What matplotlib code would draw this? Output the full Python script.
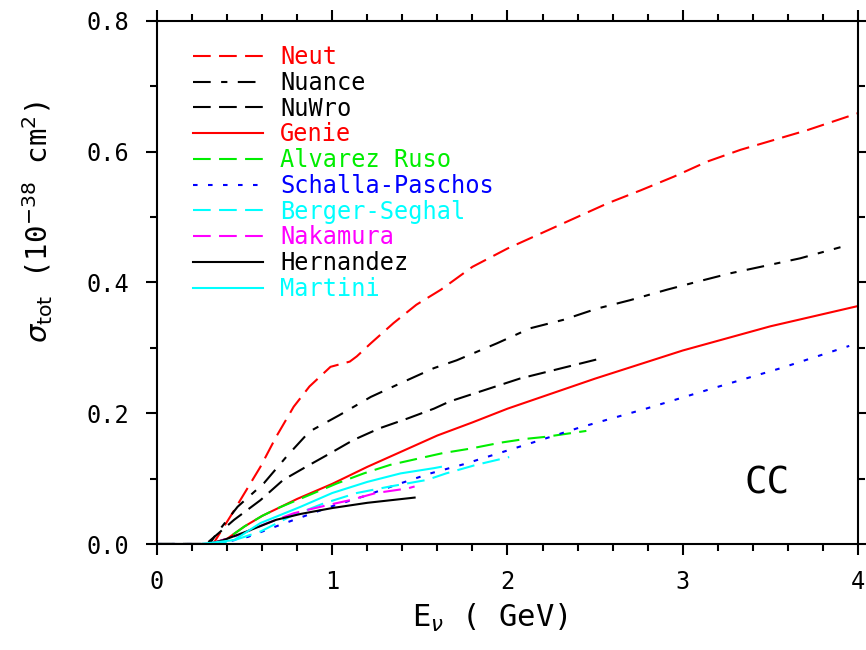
import matplotlib
matplotlib.use("Agg")
import matplotlib.pyplot as plt
from matplotlib.ticker import MultipleLocator, FormatStrFormatter

plt.rcParams['font.family'] = ['DejaVu Sans Mono', 'DejaVu Sans']
plt.rcParams['mathtext.fontset'] = 'dejavusans'

# ---- data (E in GeV, sigma in 1e-38 cm^2) ----
neut_E = [0.0, 0.32, 0.43, 0.59, 0.68, 0.78, 0.87, 0.99, 1.10, 1.14, 1.22, 1.35, 1.48, 1.62, 1.80, 2.0, 2.19, 2.38, 2.57, 2.76, 2.95, 3.14, 3.33, 3.52, 3.71, 4.0]
neut_s = [0.0, 0.0, 0.047, 0.118, 0.164, 0.21, 0.241, 0.271, 0.279, 0.287, 0.307, 0.338, 0.366, 0.389, 0.424, 0.452, 0.475, 0.498, 0.521, 0.541, 0.562, 0.585, 0.603, 0.618, 0.633, 0.659]

nuance_E = [0.0, 0.30, 0.34, 0.46, 0.61, 0.74, 0.87, 1.04, 1.22, 1.39, 1.58, 1.71, 1.94, 2.13, 2.32, 2.51, 2.70, 2.91, 3.08, 3.27, 3.48, 3.67, 3.90]
nuance_s = [0.0, 0.0, 0.016, 0.057, 0.093, 0.134, 0.172, 0.197, 0.225, 0.246, 0.269, 0.281, 0.307, 0.330, 0.343, 0.360, 0.373, 0.389, 0.401, 0.414, 0.426, 0.437, 0.454]

nuwro_E = [0.0, 0.28, 0.44, 0.59, 0.72, 0.85, 0.99, 1.12, 1.27, 1.43, 1.58, 1.67, 2.07, 2.34, 2.55]
nuwro_s = [0.0, 0.0, 0.037, 0.067, 0.098, 0.118, 0.139, 0.159, 0.177, 0.192, 0.207, 0.218, 0.253, 0.271, 0.285]

genie_E = [0.0, 0.30, 0.40, 0.50, 0.60, 0.70, 0.80, 1.0, 1.2, 1.4, 1.6, 1.8, 2.0, 2.5, 3.0, 3.5, 4.0]
genie_s = [0.0, 0.0, 0.008, 0.027, 0.043, 0.056, 0.069, 0.092, 0.118, 0.142, 0.166, 0.186, 0.207, 0.253, 0.296, 0.333, 0.364]

alvarez_E = [0.0, 0.30, 0.40, 0.50, 0.60, 0.70, 0.87, 1.03, 1.18, 1.33, 1.48, 1.63, 1.79, 1.96, 2.11, 2.22, 2.45]
alvarez_s = [0.0, 0.0, 0.008, 0.027, 0.043, 0.056, 0.075, 0.093, 0.108, 0.121, 0.130, 0.139, 0.146, 0.155, 0.161, 0.164, 0.173]

schalla_E = [0.0, 0.35, 0.52, 0.70, 0.99, 1.18, 1.37, 1.56, 1.75, 1.94, 2.13, 2.41, 2.79, 3.17, 3.56, 3.95]
schalla_s = [0.0, 0.0, 0.011, 0.029, 0.057, 0.073, 0.091, 0.108, 0.122, 0.138, 0.154, 0.178, 0.207, 0.238, 0.269, 0.303]

berger_E = [0.0, 0.30, 0.42, 0.59, 0.76, 0.95, 1.14, 1.33, 1.54, 1.65, 1.82, 2.01]
berger_s = [0.0, 0.0, 0.004, 0.019, 0.042, 0.062, 0.078, 0.088, 0.098, 0.108, 0.121, 0.133]

nakamura_E = [0.0, 0.30, 0.47, 0.62, 0.78, 0.95, 1.10, 1.25, 1.43, 1.47]
nakamura_s = [0.0, 0.0, 0.014, 0.031, 0.047, 0.058, 0.067, 0.078, 0.085, 0.088]

hernandez_E = [0.0, 0.30, 0.38, 0.53, 0.68, 0.82, 1.0, 1.2, 1.47]
hernandez_s = [0.0, 0.0, 0.006, 0.021, 0.037, 0.046, 0.055, 0.063, 0.071]

martini_E = [0.0, 0.25, 0.44, 0.59, 0.82, 1.0, 1.2, 1.39, 1.58, 1.62]
martini_s = [0.0, 0.0, 0.006, 0.032, 0.057, 0.078, 0.095, 0.108, 0.116, 0.118]

labels = ['Neut', 'Nuance', 'NuWro', 'Genie', 'Alvarez Ruso', 'Schalla-Paschos',
          'Berger-Seghal', 'Nakamura', 'Hernandez', 'Martini']
colors = ['#ff0000', '#000000', '#000000', '#ff0000', '#00ee00', '#0000ff',
          '#00ffff', '#ff00ff', '#000000', '#00ffff']
dash = (0, (8.5, 4))
dashdot = (0, (8.5, 5, 3, 5))
dotted = (0, (2.2, 5))
styles = [dash, dashdot, dash, '-', dash, dotted, dash, dash, '-', '-']
series = [(neut_E, neut_s), (nuance_E, nuance_s), (nuwro_E, nuwro_s), (genie_E, genie_s),
          (alvarez_E, alvarez_s), (schalla_E, schalla_s), (berger_E, berger_s),
          (nakamura_E, nakamura_s), (hernandez_E, hernandez_s), (martini_E, martini_s)]

fig = plt.figure(figsize=(8.66, 6.5), dpi=100)
ax = fig.add_axes([157/866, 1-544/650, 701/866, 523/650])

for (E, s), lab, c, ls in zip(series, labels, colors, styles):
    ax.plot(E, s, color=c, linestyle=ls, lw=1.5, label=lab)

ax.set_xlim(0, 4)
ax.set_ylim(0, 0.8)
ax.xaxis.set_major_locator(MultipleLocator(1))
ax.xaxis.set_minor_locator(MultipleLocator(0.2))
ax.yaxis.set_major_locator(MultipleLocator(0.2))
ax.yaxis.set_minor_locator(MultipleLocator(0.1))
ax.yaxis.set_major_formatter(FormatStrFormatter('%.1f'))
ax.tick_params(which='both', direction='out', top=True, right=True, width=1.5, labelsize=17)
ax.tick_params(which='major', length=8)
ax.tick_params(which='minor', length=5)
ax.tick_params(axis='x', which='major', pad=11)
ax.tick_params(axis='y', which='major', pad=12)
for sp in ax.spines.values():
    sp.set_linewidth(1.5)

ax.set_xlabel(r'E$_\nu$ ( GeV)', fontsize=22)
ax.xaxis.set_label_coords(0.475, -0.11)
ax.set_ylabel(r'$\sigma_{\rm tot}$ (10$^{-38}$ cm$^2$)', fontsize=21)
ax.yaxis.set_label_coords(-0.145, 0.615)

ax.text(3.48, 0.093, 'CC', fontsize=27, ha='center', va='center')

leg = ax.legend(loc='upper left', bbox_to_anchor=(0.038, 0.972), frameon=False,
                fontsize=17, handlelength=2.97, handletextpad=0.72, labelspacing=0.075,
                borderaxespad=0)
for t, c in zip(leg.get_texts(), colors):
    t.set_color(c)

fig.savefig('out.png', dpi=100)
